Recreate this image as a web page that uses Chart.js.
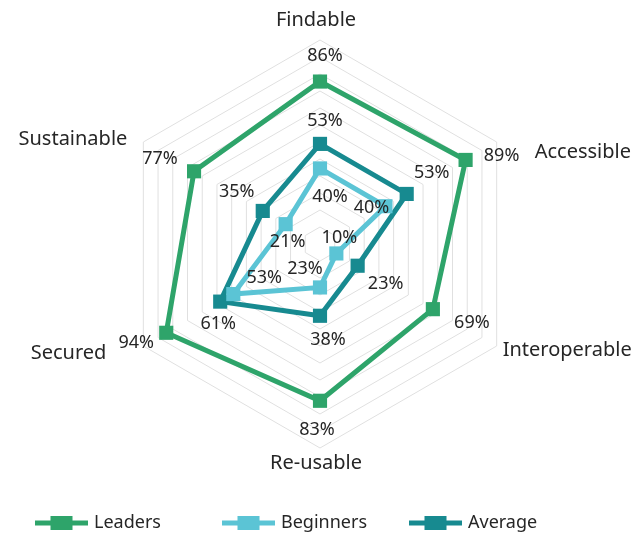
<!DOCTYPE html>
<html><head><meta charset="utf-8">
<script src="https://cdn.jsdelivr.net/npm/chart.js@4"></script>
<style>html,body{margin:0;padding:0;background:#fff}</style>
</head><body>
<canvas id="c" width="636" height="535"></canvas>
<script>
// ---- data ----
const categories = ['Findable', 'Accessible', 'Interoperable', 'Re-usable', 'Secured', 'Sustainable'];
const seriesNames = ['Leaders', 'Beginners', 'Average'];
const leadersValues = [86, 89, 69, 83, 94, 77];
const beginnersValues = [40, 40, 10, 23, 53, 21];
const averageValues = [53, 53, 23, 38, 61, 35];
const valueSuffix = '%';

// ---- styling ----
const colors = { Leaders: '#2ea46a', Beginners: '#5bc4d5', Average: '#178a90' };
const textColor = '#262626';
const fontFamily = '"Noto Sans", "Open Sans", sans-serif';
// label offsets (px) from each point: [dx, dy]
const valueLabelOffsets = {
  Leaders:   [[5,-26],[36,-4],[39,14],[-3,29],[-30,10],[-34,-12]],
  Beginners: [[10,28],[-14,2],[3,-16],[-15,-19],[31,-16],[2,18]],
  Average:   [[5,-23],[25,-21],[28,18],[8,24],[-2,22],[-26,-19]]
};
const axisLabelOffsets = [
  {dx:-4, dy:-20, align:'center'},
  {dx:38, dy:10, align:'left'},
  {dx:6, dy:4, align:'left'},
  {dx:-4, dy:15, align:'center'},
  {dx:-37, dy:7, align:'right'},
  {dx:-16, dy:-3, align:'right'}
];
const legendLayout = { startX: 35, itemWidth: 187, y: 523, lineLen: 53, boxW: 22, boxH: 14, textGap: 6 };

const seriesValues = { Leaders: leadersValues, Beginners: beginnersValues, Average: averageValues };
const drawOrder = { Leaders: 2, Beginners: 0, Average: 1 };

const datasets = seriesNames.map(name => ({
  label: name,
  data: seriesValues[name],
  borderColor: colors[name],
  backgroundColor: colors[name],
  pointBackgroundColor: colors[name],
  pointBorderColor: colors[name],
  borderWidth: 5,
  pointStyle: 'rect',
  pointRadius: 10,
  pointBorderWidth: 0,
  pointHoverRadius: 10,
  fill: false,
  tension: 0,
  order: drawOrder[name]
}));

const labelPlugin = {
  id: 'labels',
  afterDatasetsDraw(chart) {
    const ctx = chart.ctx;
    const scale = chart.scales.r;
    ctx.save();
    ctx.fillStyle = textColor;
    ctx.textBaseline = 'middle';
    // axis labels
    ctx.font = '20px ' + fontFamily;
    categories.forEach((cat, i) => {
      const p = scale.getPointPosition(i, scale.drawingArea);
      const o = axisLabelOffsets[i];
      ctx.textAlign = o.align;
      ctx.fillText(cat, p.x + o.dx, p.y + o.dy);
    });
    // value labels
    ctx.font = '18px ' + fontFamily;
    ctx.textAlign = 'center';
    chart.data.datasets.forEach(ds => {
      const offs = valueLabelOffsets[ds.label];
      ds.data.forEach((v, i) => {
        const p = scale.getPointPosition(i, scale.getDistanceFromCenterForValue(v));
        ctx.fillText(v + valueSuffix, p.x + offs[i][0], p.y + offs[i][1]);
      });
    });
    ctx.restore();
  },
  afterDraw(chart) {
    const ctx = chart.ctx;
    const L = legendLayout;
    ctx.save();
    ctx.font = '18px ' + fontFamily;
    ctx.textBaseline = 'middle';
    ctx.textAlign = 'left';
    seriesNames.forEach((name, k) => {
      const x = L.startX + k * L.itemWidth;
      const y = L.y;
      ctx.strokeStyle = colors[name];
      ctx.lineWidth = 5;
      ctx.beginPath();
      ctx.moveTo(x, y);
      ctx.lineTo(x + L.lineLen, y);
      ctx.stroke();
      ctx.fillStyle = colors[name];
      ctx.fillRect(x + (L.lineLen - L.boxW) / 2, y - L.boxH / 2, L.boxW, L.boxH);
      ctx.fillStyle = textColor;
      ctx.fillText(name, x + L.lineLen + L.textGap, y);
    });
    ctx.restore();
  }
};

new Chart(document.getElementById('c'), {
  type: 'radar',
  data: { labels: categories, datasets },
  options: {
    responsive: false,
    animation: false,
    events: [],
    layout: { padding: { top: 40, bottom: 87, left: 4, right: 0 } },
    plugins: { legend: { display: false }, tooltip: { enabled: false } },
    elements: { line: { tension: 0 } },
    scales: {
      r: {
        min: 0, max: 108,
        ticks: { display: false, stepSize: 9 },
        grid: { color: '#e0e0e0', lineWidth: 1 },
        angleLines: { display: false },
        pointLabels: { display: false }
      }
    }
  },
  plugins: [labelPlugin]
});
</script>
</body></html>
